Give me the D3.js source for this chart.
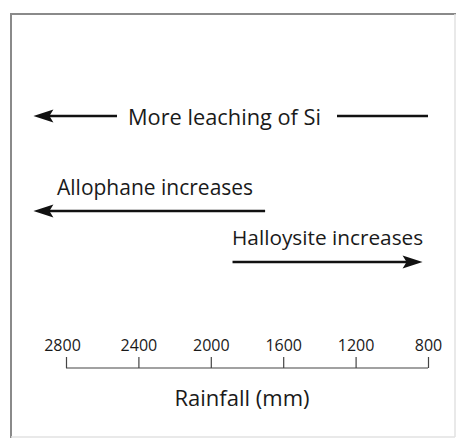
<!DOCTYPE html>
<html>
<head>
<meta charset="utf-8">
<script src="https://cdn.jsdelivr.net/npm/d3@7"></script>
<style>
  html, body { margin: 0; padding: 0; background: #fff; }
  svg { display: block; }
  text { font-family: "Open Sans", "Noto Sans", sans-serif; fill: #1a1a1a; }
</style>
</head>
<body>
<svg id="chart" width="462" height="441"></svg>
<script>
// ---- data ----
const tickValues = [2800, 2400, 2000, 1600, 1200, 800];
const axisTitle = "Rainfall (mm)";
// arrows in rainfall units: from (tail) -> to (head)
const arrowLabels = ["More leaching of Si", "Allophane increases", "Halloysite increases"];
const arrowFrom = [800, 1700, 1880];
const arrowTo = [2980, 2980, 830];

// ---- layout ----
const W = 462, H = 441;
const svg = d3.select("#chart");
svg.append("rect").attr("width", W).attr("height", H).attr("fill", "#fff");

// frame
svg.append("line").attr("x1", 11).attr("x2", 11).attr("y1", 13).attr("y2", 438)
  .attr("stroke", "#8a8a8a").attr("stroke-width", 2);
svg.append("line").attr("x1", 10).attr("x2", 456).attr("y1", 14).attr("y2", 14)
  .attr("stroke", "#8a8a8a").attr("stroke-width", 2);
svg.append("line").attr("x1", 455).attr("x2", 455).attr("y1", 14).attr("y2", 437)
  .attr("stroke", "#e2e2e2").attr("stroke-width", 1.5);
svg.append("line").attr("x1", 11).attr("x2", 455).attr("y1", 437).attr("y2", 437)
  .attr("stroke", "#e2e2e2").attr("stroke-width", 1.5);

const x = d3.scaleLinear().domain([2800, 800]).range([66, 428]);

// axis
const axisY = 368;
const axis = d3.axisTop(x).tickValues(tickValues).tickSize(11).tickPadding(6).tickFormat(d3.format("d"));
const g = svg.append("g").attr("transform", `translate(0,${axisY})`).call(axis);
g.select(".domain").attr("stroke", "#444").attr("stroke-width", 1.2).attr("d", `M${x(2800)},0H${x(800)}`);
g.selectAll(".tick line").attr("stroke", "#444").attr("stroke-width", 1.2);
g.selectAll(".tick text").attr("font-family", "'Open Sans', sans-serif").attr("font-size", 16)
  .attr("fill", "#222").attr("dx", (d, i) => i === 0 ? -4 : 0);

svg.append("text").attr("x", 242).attr("y", 406).attr("text-anchor", "middle")
  .attr("font-size", 22).text(axisTitle);

// arrows
function arrow(xFrom, xTo, y, head) {
  const dir = Math.sign(xTo - xFrom);
  const hl = 20, hw = 6.5;
  svg.append("line").attr("x1", xFrom).attr("x2", head ? xTo - dir * hl * 0.6 : xTo)
    .attr("y1", y).attr("y2", y).attr("stroke", "#111").attr("stroke-width", 2.6);
  if (head) {
    svg.append("path")
      .attr("d", `M${xTo},${y}L${xTo - dir * hl},${y - hw}L${xTo - dir * hl * 0.8},${y}L${xTo - dir * hl},${y + hw}Z`)
      .attr("fill", "#111");
  }
}

// row 1: More leaching of Si (line with a gap for the label)
const y1 = 116;
arrow(117, x(arrowTo[0]), y1, true);
arrow(337, x(arrowFrom[0]), y1, false);
svg.append("text").attr("x", 224.5).attr("y", 125).attr("text-anchor", "middle")
  .attr("font-size", 21.8).text(arrowLabels[0]);

// row 2: Allophane increases
arrow(x(arrowFrom[1]), x(arrowTo[1]), 211, true);
svg.append("text").attr("x", 57).attr("y", 195).attr("font-size", 21).text(arrowLabels[1]);

// row 3: Halloysite increases
arrow(x(arrowFrom[2]), x(arrowTo[2]), 262, true);
svg.append("text").attr("x", 232).attr("y", 245).attr("font-size", 20.8).text(arrowLabels[2]);
</script>
</body>
</html>
